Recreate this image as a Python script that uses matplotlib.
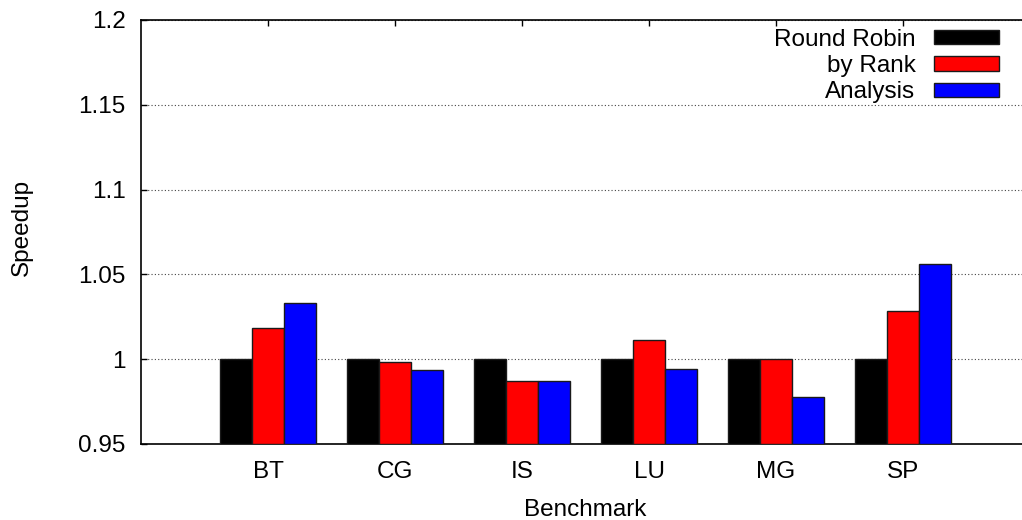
import numpy as np
import matplotlib.pyplot as plt

benchmarks = ["BT", "CG", "IS", "LU", "MG", "SP"]
round_robin = [1.0, 1.0, 1.0, 1.0, 1.0, 1.0]
by_rank = [1.0186, 0.9986, 0.987, 1.0112, 1.0002, 1.0287]
analysis = [1.033, 0.9935, 0.987, 0.9943, 0.978, 1.0563]
series_names = ["Round Robin", "by Rank", "Analysis"]
series_colors = ["#000000", "#ff0000", "#0000ff"]

plt.rcParams["font.family"] = ["Liberation Sans", "DejaVu Sans"]
fs = 17.5

fig = plt.figure(figsize=(10.22, 5.2), dpi=100)
ax = fig.add_axes([141 / 1022, 76 / 520, 889 / 1022, 424 / 520])

x = np.arange(len(benchmarks))
width = 0.25
base = 0.95
for i, (vals, name, col) in enumerate(zip([round_robin, by_rank, analysis], series_names, series_colors)):
    heights = np.array(vals) - base
    ax.bar(x + (i - 1) * width, heights, width, bottom=base, color=col,
           edgecolor="#1a1a1a", linewidth=1.0, label=name, zorder=3)

ax.set_xlim(-1, 6)
ax.set_ylim(0.95, 1.2)
ax.set_yticks([0.95, 1.0, 1.05, 1.1, 1.15, 1.2])
ax.set_yticklabels(["0.95", "1", "1.05", "1.1", "1.15", "1.2"])
ax.set_xticks(x)
ax.set_xticklabels(benchmarks)

ax.yaxis.grid(True, linestyle=(0, (1, 2)), color="#444444", linewidth=0.8, zorder=0)
ax.tick_params(axis="both", direction="in", length=4, width=1, labelsize=fs,
               top=True, right=True)
ax.tick_params(axis="x", bottom=False, pad=12)
ax.tick_params(axis="y", pad=11)
for s in ax.spines.values():
    s.set_linewidth(1.2)

fig.text(22 / 1022, 1 - 227 / 520, "Speedup", rotation=90, ha="center", va="center", fontsize=fs)
fig.text(585 / 1022, 1 - 510 / 520, "Benchmark", ha="center", va="center", fontsize=fs)

leg = ax.legend(loc="upper right", bbox_to_anchor=(999 / 1022, 1 - 29 / 520),
                bbox_transform=fig.transFigure, frameon=False, markerfirst=False,
                fontsize=fs, handlelength=2.68, handleheight=0.52,
                labelspacing=0.17, handletextpad=0.76, borderaxespad=0, borderpad=0)
for t in leg.get_texts():
    t.set_ha("right")

fig.savefig("out.png", dpi=100)
